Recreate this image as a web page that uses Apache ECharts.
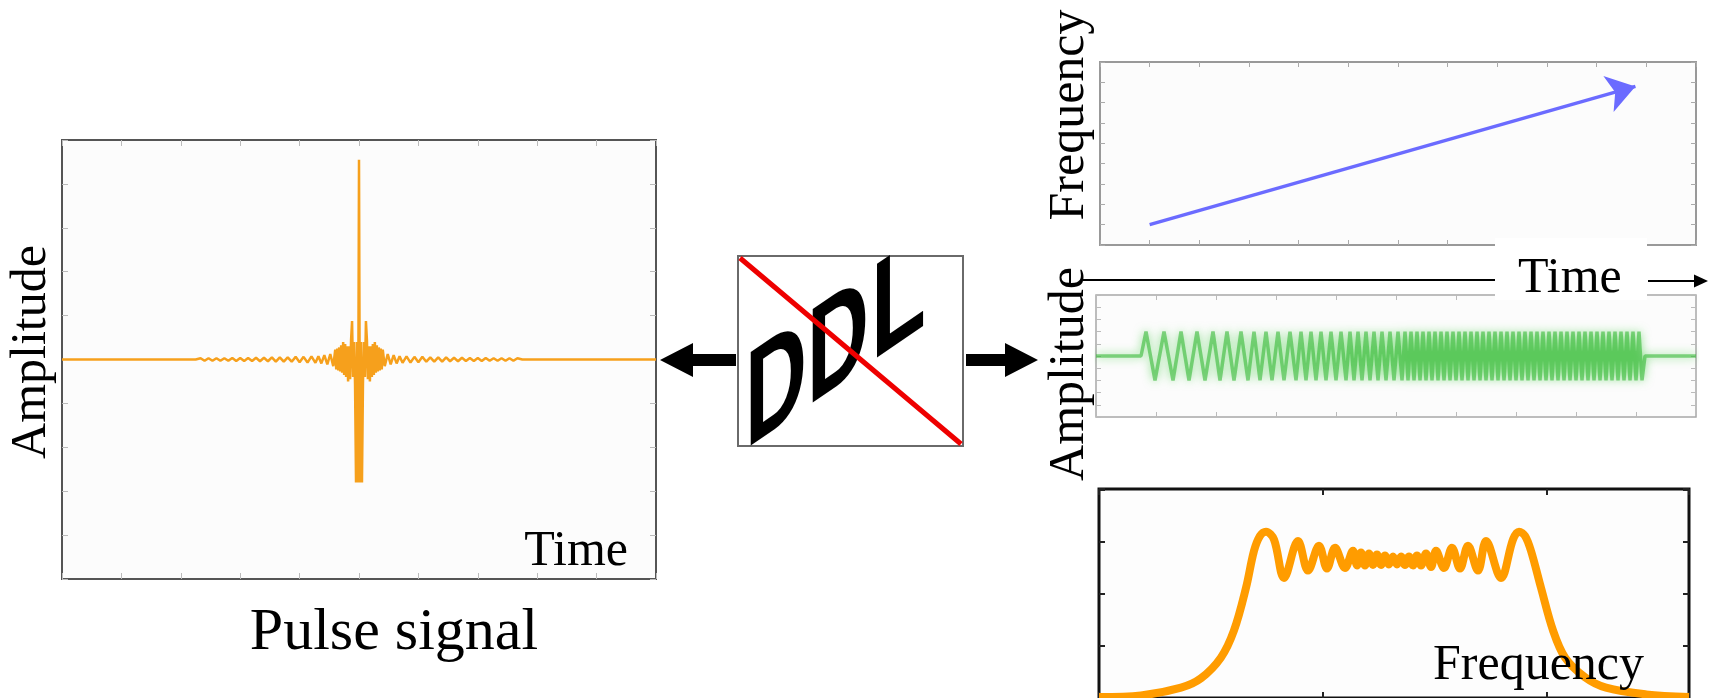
<!DOCTYPE html>
<html><head><meta charset="utf-8">
<script src="https://cdn.jsdelivr.net/npm/echarts@6/dist/echarts.min.js"></script>
<style>html,body{margin:0;padding:0;background:#fff}#c{width:1714px;height:698px}</style>
</head><body><div id="c"></div>
<script>
// ---- Pulse signal (left panel) ----
const pulseTime = [-300, -165, -160, -156, -152, -148, -144, -140, -136, -132, -128, -124, -120, -116, -112, -108, -104, -100, -96, -92, -88, -84, -80, -76, -72, -68, -64, -60, -56, -52, -48, -44, -41, -38, -35, -32, -29, -26,
  -24, -23, -22, -21, -20, -19, -18, -17, -16, -15, -14, -13, -12, -11, -10, -9, -8, -7, -6, -5, -4, -3, -2, -1, 0, 1, 2, 3, 4, 5, 6, 7, 8, 9, 10, 11, 12, 13, 14, 15, 16, 17, 18, 19, 20, 21, 22, 23, 24,
  26, 29, 32, 35, 38, 41, 44, 48, 52, 56, 60, 64, 68, 72, 76, 80, 84, 88, 92, 96, 100, 104, 108, 112, 116, 120, 124, 128, 132, 136, 140, 144, 148, 152, 156, 160, 165, 300];
const pulseAmp = [0, 0, 0.06, -0.06, 0.06, -0.06, 0.06, -0.06, 0.06, -0.06, 0.07, -0.07, 0.07, -0.07, 0.07, -0.07, 0.08, -0.08, 0.08, -0.08, 0.1, -0.1, 0.1, -0.1, 0.1, -0.1, 0.12, -0.12, 0.12, -0.14, 0.14, -0.15, 0.15, -0.18, 0.2, -0.22, 0.25, -0.3,
  0.45, -0.45, 0.5, -0.5, 0.55, -0.55, 0.65, -0.6, 0.8, -0.7, 0.7, -0.8, 0.6, -1.0, 0.6, -0.9, 0.9, 1.75, -0.8, 0.8, -1.1, -5.6, 0.8, -5.6, 9.1, -5.6, 0.8, -5.6, -1.1, 0.8, -0.8, 1.75, 0.9, -0.9, 0.6, -1.0, 0.6, -0.8, 0.7, -0.7, 0.8, -0.6, 0.65, -0.55, 0.55, -0.5, 0.5, -0.45, 0.45,
  -0.3, 0.25, -0.22, 0.2, -0.18, 0.15, -0.15, 0.14, -0.14, 0.12, -0.12, 0.12, -0.1, 0.1, -0.1, 0.1, -0.1, 0.1, -0.08, 0.08, -0.08, 0.08, -0.07, 0.07, -0.07, 0.07, -0.07, 0.07, -0.06, 0.06, -0.06, 0.06, -0.06, 0.06, -0.06, 0.06, 0, 0];

// ---- Linear frequency sweep (top right) ----
const sweepTime = [1.0, 10.78];
const sweepFreq = [1.0, 7.8];

// ---- Chirped waveform (middle right): turning points ----
const chirpTime = [0, 45,
  50, 59, 68, 77, 85, 93, 101, 109, 117, 124,
  131, 138, 145, 152, 158, 164, 170, 176, 182, 188,
  194, 200, 205, 210, 215, 220, 225, 230, 235, 240,
  245, 250, 254, 258, 262, 266, 270, 274, 278, 282,
  286, 290, 294, 298, 302, 306, 309, 312, 315, 318,
  321, 324, 327, 330, 333, 336, 339, 342, 345, 348,
  351, 354, 357, 360, 363, 366, 369, 372, 375, 378,
  381, 384, 387, 390, 393, 396, 399, 402, 405, 408,
  411, 414, 417, 420, 423, 426, 429, 432, 435, 438,
  441, 444, 447, 450, 453, 456, 459, 462, 465, 468,
  471, 474, 477, 480, 483, 486, 489, 492, 495, 498,
  501, 504, 507, 510, 513, 516, 519, 522, 525, 528,
  531, 534, 537, 540, 543, 546,
  549, 600];
const chirpAmp = [0, 0,
  4, -4, 4, -4, 4, -4, 4, -4, 4, -4,
  4, -4, 4, -4, 4, -4, 4, -4, 4, -4,
  4, -4, 4, -4, 4, -4, 4, -4, 4, -4,
  4, -4, 4, -4, 4, -4, 4, -4, 4, -4,
  4, -4, 4, -4, 4, -4, 4, -4, 4, -4,
  4, -4, 4, -4, 4, -4, 4, -4, 4, -4,
  4, -4, 4, -4, 4, -4, 4, -4, 4, -4,
  4, -4, 4, -4, 4, -4, 4, -4, 4, -4,
  4, -4, 4, -4, 4, -4, 4, -4, 4, -4,
  4, -4, 4, -4, 4, -4, 4, -4, 4, -4,
  4, -4, 4, -4, 4, -4, 4, -4, 4, -4,
  4, -4, 4, -4, 4, -4, 4, -4, 4, -4,
  4, -4, 4, -4, 4, -4,
  0, 0];

// ---- Spectrum (bottom right) ----
const specFreq = [0, 42, 82, 102, 122, 135, 147, 155, 161, 167, 175, 185, 199, 209, 220, 228, 236, 246, 254, 258, 262, 266, 270, 274, 278, 282, 286, 290, 294, 298, 302, 306, 310, 314, 318, 322, 327, 332, 337, 345, 353, 361, 369, 379, 387, 402, 414, 420, 426, 432, 442, 454, 466, 486, 507, 547, 590];
const specPower = [0.02, 0.05, 0.2, 0.38, 0.78, 1.3, 2.12, 2.83, 3.12, 3.2, 3.05, 2.31, 3.02, 2.45, 2.93, 2.49, 2.89, 2.5, 2.83, 2.55, 2.8, 2.55, 2.78, 2.56, 2.76, 2.56, 2.74, 2.57, 2.72, 2.57, 2.72, 2.56, 2.72, 2.55, 2.74, 2.55, 2.78, 2.52, 2.83, 2.5, 2.89, 2.49, 2.93, 2.45, 3.02, 2.31, 3.05, 3.2, 3.12, 2.83, 2.12, 1.3, 0.78, 0.4, 0.2, 0.07, 0.02];

// ---- Text labels ----
const txtAmplitude = 'Amplitude';
const txtTime = 'Time';
const txtFrequency = 'Frequency';
const txtPulse = 'Pulse signal';
const txtDDL = ['D', 'D', 'L'];

const SERIF = '"Liberation Serif","Times New Roman",serif';
const SANS_B = 'bold 136px "Liberation Sans",Arial,sans-serif';
const zip = (a, b) => a.map((v, i) => [v, b[i]]);

function ax(gi, pos, min, max, interval, color, len, width) {
  return {
    type: 'value', gridIndex: gi, position: pos, min: min, max: max, interval: interval,
    axisLine: { show: false, onZero: false }, axisLabel: { show: false }, splitLine: { show: false },
    axisTick: { show: true, inside: true, length: len, lineStyle: { color: color, width: width || 1 } }
  };
}

const chart = echarts.init(document.getElementById('c'), null, { renderer: 'canvas' });

const option = {
  animation: false,
  backgroundColor: '#ffffff',
  grid: [
    { left: 62, top: 140, width: 594, height: 439, show: true, borderColor: '#555555', borderWidth: 2, backgroundColor: '#fcfcfc' },
    { left: 1100, top: 62, width: 596, height: 183, show: true, borderColor: '#999999', borderWidth: 2, backgroundColor: '#fcfcfc' },
    { left: 1096, top: 295, width: 600, height: 122, show: true, borderColor: '#a8a8a8', borderWidth: 1.5, backgroundColor: '#fcfcfc' },
    { left: 1099, top: 489, width: 590, height: 209, show: true, borderColor: '#111111', borderWidth: 3, backgroundColor: '#fdfdfd' }
  ],
  xAxis: [
    ax(0, 'bottom', -300, 300, 60, '#bbbbbb', 6),
    ax(0, 'top', -300, 300, 60, '#bbbbbb', 6),
    ax(1, 'bottom', 0, 12, 1, '#aaaaaa', 5),
    ax(1, 'top', 0, 12, 1, '#aaaaaa', 5),
    ax(2, 'bottom', 0, 600, 60, '#bbbbbb', 5),
    ax(2, 'top', 0, 600, 60, '#bbbbbb', 5),
    ax(3, 'bottom', 0, 590, 224, '#222222', 6, 2),
    ax(3, 'top', 0, 590, 224, '#222222', 6, 2)
  ],
  yAxis: [
    ax(0, 'left', -10, 10, 2, '#bbbbbb', 6),
    ax(0, 'right', -10, 10, 2, '#bbbbbb', 6),
    ax(1, 'left', 0, 9, 1, '#aaaaaa', 5),
    ax(1, 'right', 0, 9, 1, '#aaaaaa', 5),
    ax(2, 'left', -10, 10, 2, '#bbbbbb', 5),
    ax(2, 'right', -10, 10, 2, '#bbbbbb', 5),
    ax(3, 'left', 0, 4.02, 1, '#222222', 6, 2),
    ax(3, 'right', 0, 4.02, 1, '#222222', 6, 2)
  ],
  series: [
    {
      type: 'line', xAxisIndex: 0, yAxisIndex: 0, data: zip(pulseTime, pulseAmp),
      symbol: 'none', lineStyle: { color: '#f6a01c', width: 2.5 }, silent: true
    },
    {
      type: 'line', xAxisIndex: 2, yAxisIndex: 2, data: [], symbol: 'none',
      markLine: {
        silent: true, symbol: ['none', 'arrow'], symbolSize: 28,
        label: { show: false },
        lineStyle: { color: '#6b6bff', width: 3.5, type: 'solid' },
        data: [[{ coord: [sweepTime[0], sweepFreq[0]] }, { coord: [sweepTime[1], sweepFreq[1]] }]]
      }
    },
    {
      type: 'line', xAxisIndex: 4, yAxisIndex: 4, data: zip(chirpTime, chirpAmp),
      symbol: 'none', silent: true,
      lineStyle: { color: 'rgba(55,185,55,0.6)', width: 3.5, shadowBlur: 10, shadowColor: 'rgba(70,205,70,1)' }
    },
    {
      type: 'line', xAxisIndex: 6, yAxisIndex: 6, data: zip(specFreq, specPower),
      symbol: 'none', smooth: 0.35, silent: true,
      lineStyle: { color: '#ff9c00', width: 8 }
    }
  ],
  graphic: [
    // text labels
    { type: 'text', z: 100, x: 32, y: 352, rotation: Math.PI / 2,
      style: { text: txtAmplitude, font: '50px ' + SERIF, fill: '#000', align: 'center', verticalAlign: 'middle' } },
    { type: 'text', z: 100, x: 628, y: 552,
      style: { text: txtTime, font: '50px ' + SERIF, fill: '#000', align: 'right', verticalAlign: 'middle' } },
    { type: 'text', z: 100, x: 394, y: 633,
      style: { text: txtPulse, font: '60px ' + SERIF, fill: '#000', align: 'center', verticalAlign: 'middle' } },
    { type: 'text', z: 100, x: 1070, y: 115, rotation: Math.PI / 2,
      style: { text: txtFrequency, font: '50px ' + SERIF, fill: '#000', align: 'center', verticalAlign: 'middle' } },
    { type: 'text', z: 100, x: 1070, y: 374, rotation: Math.PI / 2,
      style: { text: txtAmplitude, font: '50px ' + SERIF, fill: '#000', align: 'center', verticalAlign: 'middle' } },
    { type: 'text', z: 100, x: 1433, y: 666,
      style: { text: txtFrequency, font: '50px ' + SERIF, fill: '#000', align: 'left', verticalAlign: 'middle' } },
    // Time axis arrow between right panels
    { type: 'line', z: 100, shape: { x1: 1083, y1: 280, x2: 1495, y2: 280 }, style: { stroke: '#000', lineWidth: 2 } },
    { type: 'rect', z: 100, shape: { x: 1495, y: 238, width: 152, height: 62 }, style: { fill: '#ffffff' } },
    { type: 'text', z: 101, x: 1518, y: 279,
      style: { text: txtTime, font: '50px ' + SERIF, fill: '#000', align: 'left', verticalAlign: 'middle' } },
    { type: 'line', z: 100, shape: { x1: 1648, y1: 281, x2: 1697, y2: 281 }, style: { stroke: '#000', lineWidth: 2 } },
    { type: 'polygon', z: 100, shape: { points: [[1708, 281], [1694, 274.5], [1694, 287.5]] }, style: { fill: '#000' } },
    // Fat arrows beside DDL box
    { type: 'polygon', z: 100, shape: { points: [[660, 360], [693, 343], [693, 354], [736, 354], [736, 366], [693, 366], [693, 377]] }, style: { fill: '#000' } },
    { type: 'polygon', z: 100, shape: { points: [[1038, 360], [1005, 343], [1005, 354], [966, 354], [966, 366], [1005, 366], [1005, 377]] }, style: { fill: '#000' } },
    // DDL box
    { type: 'rect', z: 100, shape: { x: 738, y: 256, width: 225, height: 190 }, style: { fill: '#ffffff', stroke: '#6a6a6a', lineWidth: 2 } },
    { type: 'text', z: 101, x: 745, y: 412, scaleX: 0.63, skewY: 0.6,
      style: { text: txtDDL[0], font: SANS_B, fill: '#000', align: 'left', verticalAlign: 'middle' } },
    { type: 'text', z: 101, x: 807, y: 369, scaleX: 0.63, skewY: 0.6,
      style: { text: txtDDL[1], font: SANS_B, fill: '#000', align: 'left', verticalAlign: 'middle' } },
    { type: 'text', z: 101, x: 871, y: 324, scaleX: 0.66, skewY: 0.6,
      style: { text: txtDDL[2], font: SANS_B, fill: '#000', align: 'left', verticalAlign: 'middle' } },
    { type: 'line', z: 102, shape: { x1: 740, y1: 258, x2: 961, y2: 444 }, style: { stroke: '#ee0000', lineWidth: 5 } }
  ]
};
chart.setOption(option);
</script>
</body></html>
